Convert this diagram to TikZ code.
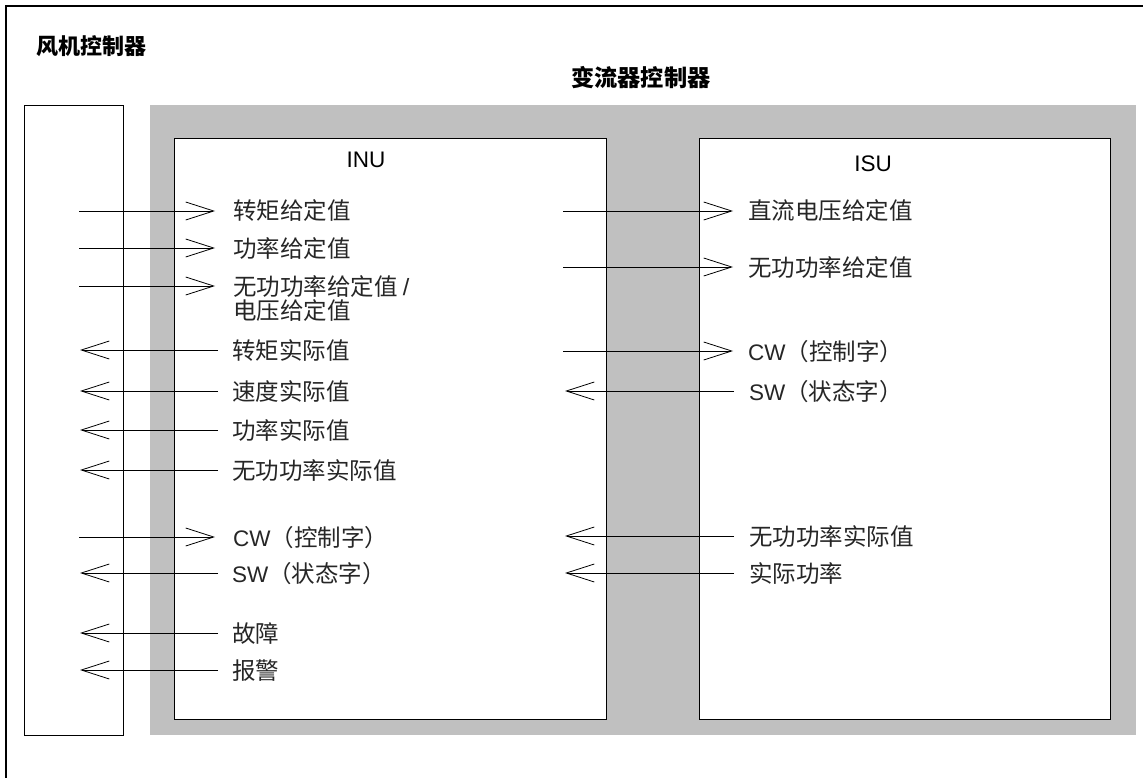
\documentclass[tikz,border=0pt]{standalone}
\usepackage{fontspec}
\setmainfont{Liberation Sans}
\newfontfamily\lat{Liberation Sans}
\newfontfamily\cjk{Noto Sans CJK SC}
\usetikzlibrary{arrows.meta}
\definecolor{shade}{RGB}{192,192,192}
\begin{document}
\begin{tikzpicture}[x=1pt,y=-1pt,
  frame/.style={draw=black,line width=1.3pt},
  box/.style={draw=black,line width=1.3pt,fill=white,anchor=north west,inner sep=0pt},
  lbl/.style={anchor=west,inner sep=0pt,font=\fontsize{23.5}{27}\selectfont\cjk,text height=18pt,text depth=0pt,text=black!85},
  ttl/.style={anchor=west,inner sep=0pt,font=\fontsize{22}{26}\selectfont\cjk\bfseries,text height=17pt,text depth=0pt},
  unit/.style={inner sep=0pt,font=\fontsize{22.5}{26}\selectfont\lat,text height=16pt,text depth=0pt},
  sig/.style={line width=0.8pt,-{Straight Barb[length=28pt,width=18pt]}}
]
\useasboundingbox (0,0) rectangle (1143,778);
\fill[white] (0,0) rectangle (1143,778);
% outer frame (cropped on right and bottom)
\draw[frame] (1143,6) -- (6,6) -- (6,778);
\node[ttl] (wtc) at (36,46) {风机控制器};
\node[ttl,font=\fontsize{23.2}{27}\selectfont\cjk\bfseries] (cc) at (571,78) {变流器控制器};
% turbine interface box
\node[box,minimum width=99pt,minimum height=630pt] (tif) at (24,105) {};
% converter area
\node[fill=shade,anchor=north west,inner sep=0pt,minimum width=986pt,minimum height=630pt] (conv) at (150,105) {};
\node[box,minimum width=432pt,minimum height=581pt] (inu) at (174,138) {};
\node[box,minimum width=411pt,minimum height=581pt] (isu) at (699,138) {};
\node[unit] (inut) at (366,160) {INU};
\node[unit] (isut) at (873,164) {ISU};

% INU inputs
\coordinate (a1) at (79,211);
\node[lbl] (t1) at (233,211) {转矩给定值};
\draw[sig] (a1) -- ([xshift=-18pt]t1.west);
\coordinate (a2) at (79,248);
\node[lbl] (t2) at (233,248) {功率给定值};
\draw[sig] (a2) -- ([xshift=-18pt]t2.west);
\coordinate (a3) at (79,286);
\node[lbl] (t3) at (233,286) {无功功率给定值 {\lat /}};
\node[lbl] (t3b) at (233,310) {电压给定值};
\draw[sig] (a3) -- ([xshift=-18pt]t3.west);
% INU outputs
\coordinate (b1) at (80,350);
\node[lbl] (u1) at (232,350) {转矩实际值};
\draw[sig] ([xshift=-14pt]u1.west) -- (b1);
\coordinate (b2) at (80,391);
\node[lbl] (u2) at (232,391) {速度实际值};
\draw[sig] ([xshift=-14pt]u2.west) -- (b2);
\coordinate (b3) at (80,430);
\node[lbl] (u3) at (232,430) {功率实际值};
\draw[sig] ([xshift=-14pt]u3.west) -- (b3);
\coordinate (b4) at (80,470);
\node[lbl] (u4) at (232,470) {无功功率实际值};
\draw[sig] ([xshift=-14pt]u4.west) -- (b4);
\coordinate (a4) at (79,537);
\node[lbl] (t4) at (233,537) {{\lat\fontsize{22.5}{27}\selectfont CW}（控制字）};
\draw[sig] (a4) -- ([xshift=-18pt]t4.west);
\coordinate (b5) at (80,573);
\node[lbl] (u5) at (232,573) {{\lat\fontsize{22.5}{27}\selectfont SW}（状态字）};
\draw[sig] ([xshift=-14pt]u5.west) -- (b5);
\coordinate (b6) at (80,633);
\node[lbl] (u6) at (232,633) {故障};
\draw[sig] ([xshift=-14pt]u6.west) -- (b6);
\coordinate (b7) at (80,670);
\node[lbl] (u7) at (232,670) {报警};
\draw[sig] ([xshift=-14pt]u7.west) -- (b7);

% ISU inputs
\coordinate (c1) at (563,211);
\node[lbl] (v1) at (748,211) {直流电压给定值};
\draw[sig] (c1) -- ([xshift=-15pt]v1.west);
\coordinate (c2) at (563,267);
\node[lbl] (v2) at (748,267) {无功功率给定值};
\draw[sig] (c2) -- ([xshift=-15pt]v2.west);
\coordinate (c3) at (563,351);
\node[lbl] (v3) at (748,351) {{\lat\fontsize{22.5}{27}\selectfont CW}（控制字）};
\draw[sig] (c3) -- ([xshift=-15pt]v3.west);
% ISU outputs
\coordinate (d1) at (565,391);
\node[lbl] (w1) at (749,391) {{\lat\fontsize{22.5}{27}\selectfont SW}（状态字）};
\draw[sig] ([xshift=-15pt]w1.west) -- (d1);
\coordinate (d2) at (565,536);
\node[lbl] (w2) at (749,536) {无功功率实际值};
\draw[sig] ([xshift=-15pt]w2.west) -- (d2);
\coordinate (d3) at (565,573);
\node[lbl] (w3) at (749,573) {实际功率};
\draw[sig] ([xshift=-15pt]w3.west) -- (d3);
\end{tikzpicture}
\end{document}
